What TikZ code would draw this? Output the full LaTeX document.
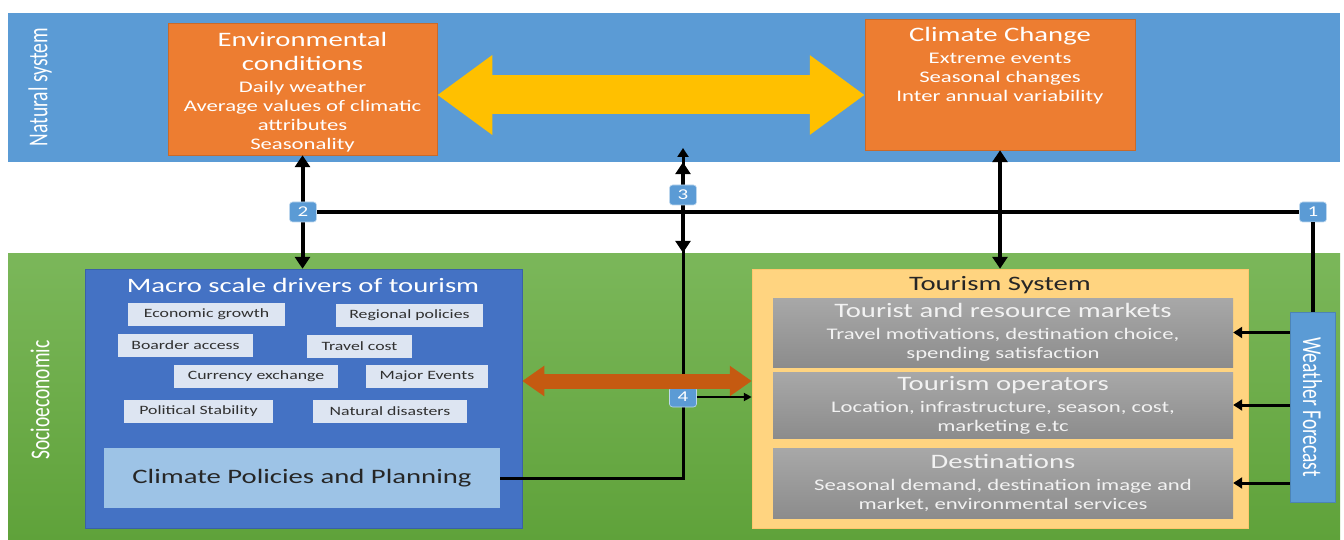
\documentclass[tikz,border=0pt]{standalone}
\usepackage{fontspec}
\setmainfont{Carlito}[FakeStretch=1.4]
\newfontfamily\sideface{Carlito}
\usepackage{tikz}
\usetikzlibrary{arrows.meta,positioning,calc}

\definecolor{natblue}{HTML}{5B9BD5}
\definecolor{envorange}{HTML}{ED7D31}
\definecolor{linkyellow}{HTML}{FFC000}
\definecolor{greentop}{HTML}{7BB75A}
\definecolor{greenbot}{HTML}{5FA23A}
\definecolor{macroblue}{HTML}{4472C4}
\definecolor{itemfill}{HTML}{DDE5F2}
\definecolor{itemtext}{HTML}{303030}
\definecolor{cppblue}{HTML}{9DC3E6}
\definecolor{tsysfill}{HTML}{FFD480}
\definecolor{graytop}{HTML}{A8A8A8}
\definecolor{graybot}{HTML}{8C8C8C}
\definecolor{graytext}{HTML}{F2F2F2}
\definecolor{rustorange}{HTML}{C55A11}
\definecolor{darktext}{HTML}{262626}

\newcommand{\boxtitle}{\fontsize{20.5}{24}\selectfont}
\newcommand{\boxsub}{\fontsize{16.2}{19}\selectfont}
\newcommand{\itemtxt}{\fontsize{12.7}{15}\selectfont}
\newcommand{\numtxt}{\fontsize{15}{17}\selectfont}
\newcommand{\sidetxt}{\sideface\fontsize{19.5}{22}\selectfont}

\tikzset{
  band/.style={inner sep=0pt, draw=none},
  orangebox/.style={fill=envorange, draw=envorange!85!black, line width=0.5pt, inner sep=0pt, text=white, align=center, font=\boxsub},
  itembox/.style={fill=itemfill, inner sep=0pt, text=itemtext, font=\itemtxt, minimum height=23pt},
  graybox/.style={top color=graytop, bottom color=graybot, inner sep=0pt, text=graytext, align=center, font=\boxsub, minimum width=460pt},
  numlabel/.style={fill=natblue, draw=white!60!natblue, line width=0.6pt, rounded corners=3pt, text=white, font=\numtxt, inner sep=0pt, minimum width=27pt, minimum height=20pt},
  linkarrow/.style={line width=4pt, {Triangle[length=12pt,width=15pt]}-{Triangle[length=12pt,width=15pt]}},
  feedarrow/.style={line width=3pt, -{Triangle[length=9pt,width=11pt]}}
}

\begin{document}
\begin{tikzpicture}[x=1pt,y=-1pt]
\useasboundingbox (0,0) rectangle (1344,540);
\fill[white] (0,0) rectangle (1344,540);

% the two systems
\node[band, fill=natblue, minimum width=1332pt, minimum height=149pt] (natband) at (674,87.5) {};
\node[band, top color=greentop, bottom color=greenbot, minimum width=1332pt, minimum height=287pt] (socband) at (674,396.5) {};
\node[rotate=90, text=white, font=\sidetxt] (natlabel) at (40,87) {\scalebox{1}[1.4]{Natural system}};
\node[rotate=90, text=white, font=\sidetxt] (soclabel) at (40,400) {\scalebox{1}[1.4]{Socioeconomic}};

% natural system
\node[orangebox, minimum width=269pt, minimum height=132pt] (env) at (302.5,89) {};
\node[anchor=north, text=white, align=center, font=\boxsub] (envtext) at ([yshift=-6pt]env.north)
  {{\boxtitle Environmental}\\[5pt]{\boxtitle conditions}\\[3pt]Daily weather\\Average values of climatic\\attributes\\Seasonality};
\node[orangebox, minimum width=270pt, minimum height=131pt] (cc) at (1000,84.5) {};
\node[anchor=north, text=white, align=center, font=\boxsub] (cctext) at ([yshift=-5pt]cc.north)
  {{\boxtitle Climate Change}\\[3pt]Extreme events\\Seasonal changes\\Inter annual variability};
\draw[line width=39pt, linkyellow, {Triangle[length=55pt,width=76pt]}-{Triangle[length=55pt,width=76pt]}] (env.east |- 0,95) -- (cc.west |- 0,95);

% macro drivers
\node[fill=macroblue, draw=macroblue!85!black, line width=0.5pt, minimum width=437pt, minimum height=259pt] (macro) at (303.5,398.5) {};
\node[text=white, font=\boxtitle] (macrotitle) at (303,285) {Macro scale drivers of tourism};
\node[itembox, minimum width=157pt] (eco) at (206.5,314.5) {Economic growth};
\node[itembox, minimum width=147pt] (reg) at (409.5,315) {Regional policies};
\node[itembox, minimum width=135pt] (boa) at (185.5,345.5) {Boarder access};
\node[itembox, minimum width=105pt] (tra) at (359.5,346) {Travel cost};
\node[itembox, minimum width=164pt] (cur) at (256,376.5) {Currency exchange};
\node[itembox, minimum width=122pt] (maj) at (427,376.5) {Major Events};
\node[itembox, minimum width=149pt] (pol) at (198.5,411.5) {Political Stability};
\node[itembox, minimum width=154pt] (nat) at (390,411.5) {Natural disasters};
\node[fill=cppblue, text=darktext, font=\boxtitle, inner sep=0pt, minimum width=396pt, minimum height=60pt] (cpp) at (302,478) {Climate Policies and Planning};

% tourism system
\node[fill=tsysfill, draw=tsysfill!85!orange, line width=0.5pt, minimum width=496pt, minimum height=259pt] (tsys) at (1000,398.5) {};
\node[text=darktext, font=\boxtitle] (tsystitle) at (1000,285) {Tourism System};
\node[graybox, minimum height=69pt] (g1) at (1003,332.5)
  {{\boxtitle Tourist and resource markets}\\[3pt]Travel motivations, destination choice,\\spending satisfaction};
\node[graybox, minimum height=66pt] (g2) at (1003,405)
  {{\boxtitle Tourism operators}\\[3pt]Location, infrastructure, season, cost,\\marketing e.tc};
\node[graybox, minimum height=70pt] (g3) at (1003,483)
  {{\boxtitle Destinations}\\[3pt]Seasonal demand, destination image and\\market, environmental services};
\node[fill=natblue, draw=natblue!85!black, line width=0.5pt, inner sep=0pt, minimum width=45pt, minimum height=190pt] (wf) at (1312.5,407) {};
\node[rotate=-90, text=white, font=\sidetxt] (wftext) at (wf.center) {\scalebox{1}[1.4]{Weather Forecast}};

% links
\coordinate (top4) at (683,148);
\draw[feedarrow] (cpp.east) -| (top4);
\draw[linkarrow] (env.south) -- (env.south |- macro.north);
\draw[linkarrow] (cc.south) -- (tsys.north);
\draw[linkarrow] (natband.south -| top4) -- (socband.north -| top4);
\node[numlabel] (n1) at (1313,212) {1};
\node[numlabel] (n2) at (303,212) {2};
\node[numlabel] (n3) at (683,195) {3};
\node[numlabel] (n4) at (683,397) {4};
\draw[line width=4pt] (n2) -- (n1);
\draw[line width=4pt] (n1) -- (n1 |- wf.north);
\draw[line width=2pt, -{Triangle[length=8pt,width=8pt]}] (n4.east) -- (n4.east -| tsys.west);
\foreach \g in {g1,g2,g3}
  \draw[feedarrow] (wf.west |- \g.east) -- (\g.east);
\draw[line width=15pt, rustorange, {Triangle[length=22pt,width=29pt]}-{Triangle[length=22pt,width=29pt]}] (macro.east |- 0,381) -- (tsys.west |- 0,381);
\end{tikzpicture}
\end{document}
